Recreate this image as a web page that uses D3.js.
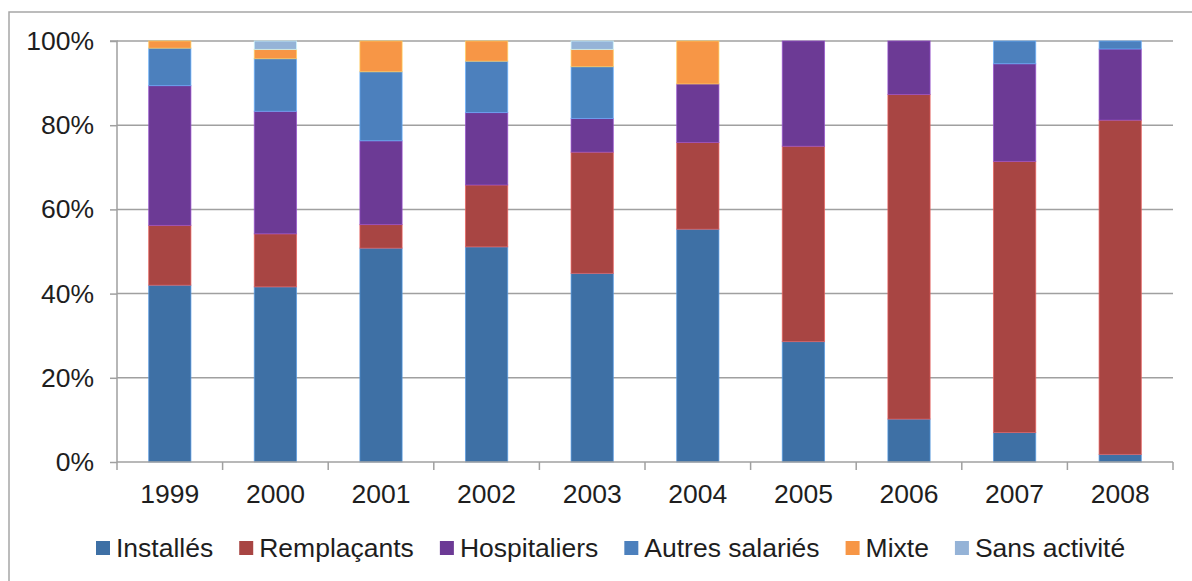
<!DOCTYPE html>
<html lang="fr">
<head>
    <meta charset="UTF-8">
    <title>Répartition par activité</title>
    <script src="https://cdn.jsdelivr.net/npm/d3@7"></script>
    <style>
    body {
        margin: 0;
        background: #fff;
    }
    svg {
        display: block;
    }
    text {
        font-family: "Liberation Sans", Arial, sans-serif;
        fill: #1e1e1e;
    }
    .grid line {
        stroke: #a0a0a0;
        stroke-width: 1.5;
    }
    .axis path, .axis line {
        stroke: #a0a0a0;
        stroke-width: 1.5;
    }
    </style>
</head>
<body>
<script>
// values in % per year
const years = ["1999", "2000", "2001", "2002", "2003", "2004", "2005", "2006", "2007", "2008"]
const installes    = [42.0, 41.6, 50.8, 51.1, 44.8, 55.3, 28.6, 10.2, 7.0, 1.8]
const remplacants  = [14.2, 12.6, 5.6, 14.7, 28.8, 20.6, 46.4, 77.1, 64.4, 79.4]
const hospitaliers = [33.2, 29.1, 19.9, 17.2, 8.0, 13.9, 25.0, 12.7, 23.2, 16.9]
const autres       = [8.9, 12.5, 16.4, 12.2, 12.3, 0, 0, 0, 5.4, 1.9]
const mixte        = [1.7, 2.2, 7.3, 4.8, 4.1, 10.2, 0, 0, 0, 0]
const sansActivite = [0, 2.0, 0, 0, 2.0, 0, 0, 0, 0, 0]
const yTicks = [0, 20, 40, 60, 80, 100]

const seriesNames = ["Installés", "Remplaçants", "Hospitaliers", "Autres salariés", "Mixte", "Sans activité"]
const seriesValues = [installes, remplacants, hospitaliers, autres, mixte, sansActivite]
const colors = ["#3e70a5", "#a84543", "#6c3a95", "#4c80bd", "#f79646", "#95b3d7"]

const width = 1192, height = 581
const margin = {left: 117, right: 19, top: 41, bottom: 119}
const fontSize = "26.5px"

const svg = d3.select("body").append("svg")
    .attr("width", width)
    .attr("height", height)

// chart frame
svg.append("rect")
    .attr("x", 9).attr("y", 12)
    .attr("width", width + 20).attr("height", height + 20)
    .attr("fill", "none")
    .attr("stroke", "#a6a6a6")
    .attr("stroke-width", 1.5)

const table = years.map((y, i) => {
    const row = {year: y}
    seriesNames.forEach((s, j) => row[s] = seriesValues[j][i])
    return row
})
const stacked = d3.stack().keys(seriesNames)(table)

const x = d3.scaleBand()
    .domain(years)
    .range([margin.left, width - margin.right])
    .paddingInner(0.6)
    .paddingOuter(0.3)

const y = d3.scaleLinear()
    .domain([0, 100])
    .range([height - margin.bottom, margin.top])

// gridlines
svg.append("g")
    .attr("class", "grid")
    .selectAll("line")
    .data(yTicks.filter(d => d > 0))
    .enter()
    .append("line")
    .attr("x1", margin.left)
    .attr("x2", width - margin.right)
    .attr("y1", d => y(d))
    .attr("y2", d => y(d))

// bars
svg.append("g")
    .selectAll("g")
    .data(stacked)
    .enter()
    .append("g")
    .attr("fill", (d, i) => colors[i])
    .attr("stroke", (d, i) => d3.color(colors[i]).brighter(0.9))
    .attr("stroke-opacity", 0.7)
    .selectAll("rect")
    .data(d => d.filter(p => p[1] - p[0] > 0))
    .enter()
    .append("rect")
    .attr("x", d => x(d.data.year))
    .attr("width", x.bandwidth())
    .attr("y", d => y(d[1]))
    .attr("height", d => y(d[0]) - y(d[1]))
    .attr("stroke-width", 1)

// y axis
const yAxis = svg.append("g")
    .attr("class", "axis")
    .attr("transform", `translate(${margin.left},0)`)
    .call(d3.axisLeft(y).tickValues(yTicks).tickSize(7).tickPadding(16).tickFormat(d => d + "%"))
yAxis.select(".domain").attr("d", `M-7,${y(100)}H0V${y(0)}`)
yAxis.selectAll("text").style("font-size", fontSize)

// x axis with ticks between categories
const xAxis = svg.append("g")
    .attr("class", "axis")
    .attr("transform", `translate(0,${y(0)})`)
xAxis.append("line")
    .attr("x1", margin.left).attr("x2", width - margin.right)
xAxis.selectAll(".sep")
    .data(d3.range(years.length + 1))
    .enter()
    .append("line")
    .attr("x1", i => margin.left + i * x.step())
    .attr("x2", i => margin.left + i * x.step())
    .attr("y1", 0).attr("y2", 8)
xAxis.selectAll(".lbl")
    .data(years)
    .enter()
    .append("text")
    .attr("x", d => x(d) + x.bandwidth() / 2)
    .attr("y", 41)
    .attr("text-anchor", "middle")
    .style("font-size", fontSize)
    .text(d => d)

// legend
const legend = svg.append("g").attr("transform", "translate(96,548)")
let lx = 0
seriesNames.forEach((s, i) => {
    const item = legend.append("g").attr("transform", `translate(${lx},0)`)
    item.append("rect")
        .attr("x", 0).attr("y", -7)
        .attr("width", 14).attr("height", 14)
        .attr("fill", colors[i])
    const t = item.append("text")
        .attr("x", 20)
        .attr("dy", "0.35em")
        .style("font-size", fontSize)
        .text(s)
    lx += 20 + t.node().getComputedTextLength() + 26
})
</script>
</body>
</html>
